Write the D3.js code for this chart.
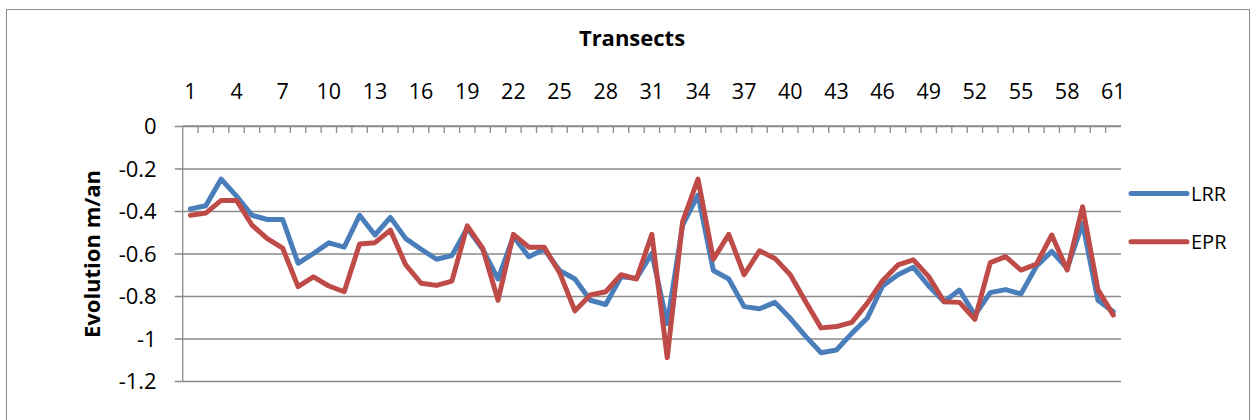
<!DOCTYPE html>
<html>
<head>
<meta charset="utf-8">
<script src="https://cdn.jsdelivr.net/npm/d3@7"></script>
<style>
  body { margin: 0; background: #fff; }
  svg text { font-family: "Open Sans", Lato, sans-serif; fill: #000; }
</style>
</head>
<body>
<div id="chart"></div>
<script>
// transect numbers 1..61
var transects = d3.range(1, 62);
var lrr = [-0.39, -0.375, -0.25, -0.33, -0.42, -0.44, -0.44, -0.646, -0.6, -0.55,
           -0.57, -0.42, -0.513, -0.43, -0.53, -0.58, -0.627, -0.61, -0.48, -0.58,
           -0.72, -0.52, -0.615, -0.58, -0.68, -0.72, -0.82, -0.84, -0.71, -0.717,
           -0.6, -0.93, -0.466, -0.325, -0.68, -0.72, -0.85, -0.86, -0.83, -0.905,
           -0.99, -1.067, -1.054, -0.976, -0.905, -0.753, -0.70, -0.665, -0.753, -0.827,
           -0.772, -0.89, -0.784, -0.77, -0.79, -0.66, -0.59, -0.67, -0.458, -0.82, -0.874];
var epr = [-0.42, -0.41, -0.35, -0.35, -0.466, -0.53, -0.575, -0.756, -0.71, -0.753,
           -0.78, -0.555, -0.549, -0.49, -0.654, -0.74, -0.75, -0.73, -0.47, -0.575,
           -0.82, -0.51, -0.57, -0.57, -0.69, -0.87, -0.795, -0.78, -0.70, -0.72,
           -0.51, -1.09, -0.45, -0.25, -0.627, -0.51, -0.70, -0.587, -0.623, -0.70,
           -0.827, -0.95, -0.944, -0.924, -0.835, -0.728, -0.654, -0.63, -0.709, -0.827,
           -0.83, -0.91, -0.643, -0.615, -0.678, -0.65, -0.513, -0.678, -0.38, -0.77, -0.89];
var yTicks = [0, -0.2, -0.4, -0.6, -0.8, -1, -1.2];
var seriesNames = ["LRR", "EPR"];
var colors = ["#4a7ebb", "#be4b48"];

var width = 1257, height = 420;
var plot = {left: 182.7, right: 1121, top: 126, bottom: 381};

var svg = d3.select("#chart").append("svg")
    .attr("width", width).attr("height", height);

// chart border
svg.append("rect")
    .attr("x", 6.5).attr("y", 9.5).attr("width", 1243).attr("height", 430)
    .attr("fill", "none").attr("stroke", "#8c8c8c").attr("stroke-width", 1);

var x = d3.scaleBand().domain(transects).range([plot.left, plot.right]).padding(0);
var y = d3.scaleLinear().domain([-1.2, 0]).range([plot.bottom, plot.top]);
var cx = d => x(d) + x.bandwidth() / 2;

// gridlines + y axis
var yAxis = d3.axisLeft(y).tickValues(yTicks).tickSize(-(plot.right - plot.left)).tickPadding(26)
    .tickFormat(d => d === 0 ? "0" : String(d));
var gy = svg.append("g").attr("transform", `translate(${plot.left},0)`).call(yAxis);
gy.select(".domain").remove();
gy.selectAll(".tick line").attr("x1", -8).attr("stroke", "#8a8a8a").attr("stroke-width", 1.3);
gy.selectAll(".tick text").attr("font-size", 22).attr("dy", "0.36em");
svg.append("line")
    .attr("x1", plot.left).attr("x2", plot.left).attr("y1", plot.top).attr("y2", plot.bottom)
    .attr("stroke", "#8a8a8a").attr("stroke-width", 1.3);

// category axis along y = 0, ticks between categories
svg.append("g").selectAll("line").data(transects.slice(1)).enter().append("line")
    .attr("x1", d => x(d)).attr("x2", d => x(d))
    .attr("y1", y(0)).attr("y2", y(0) + 7)
    .attr("stroke", "#8a8a8a").attr("stroke-width", 1.3);
svg.append("line")
    .attr("x1", plot.left).attr("x2", plot.right).attr("y1", y(0)).attr("y2", y(0))
    .attr("stroke", "#8a8a8a").attr("stroke-width", 1.3);

var xAxis = d3.axisTop(x).tickValues(transects.filter(d => (d - 1) % 3 === 0)).tickSize(0).tickPadding(27.5);
var gx = svg.append("g").attr("transform", `translate(0,${y(0)})`).call(xAxis);
gx.select(".domain").remove();
gx.selectAll(".tick text").attr("font-size", 21.5);

// lines
var line = d3.line().x((d, i) => cx(transects[i])).y(d => y(d));
[lrr, epr].forEach(function(s, i) {
  svg.append("path").datum(s)
    .attr("d", line)
    .attr("fill", "none").attr("stroke", colors[i])
    .attr("stroke-width", 5).attr("stroke-linejoin", "round").attr("stroke-linecap", "round");
});

// titles
svg.append("text").attr("x", 632).attr("y", 46).attr("text-anchor", "middle")
    .attr("font-size", 22).attr("font-weight", "bold").text("Transects");
svg.append("text").attr("transform", "translate(100,254) rotate(-90)").attr("text-anchor", "middle")
    .attr("font-size", 22).attr("font-weight", "bold").text("Evolution m/an");

// legend
var legend = svg.append("g").selectAll("g").data(seriesNames).enter().append("g")
    .attr("transform", (d, i) => `translate(1131,${193.5 + i * 48.3})`);
legend.append("line").attr("x1", 0).attr("x2", 56)
    .attr("stroke", (d, i) => colors[i]).attr("stroke-width", 5).attr("stroke-linecap", "round");
legend.append("text").attr("x", 60).attr("dy", "0.36em").attr("font-size", 20).text(d => d);
</script>
</body>
</html>
